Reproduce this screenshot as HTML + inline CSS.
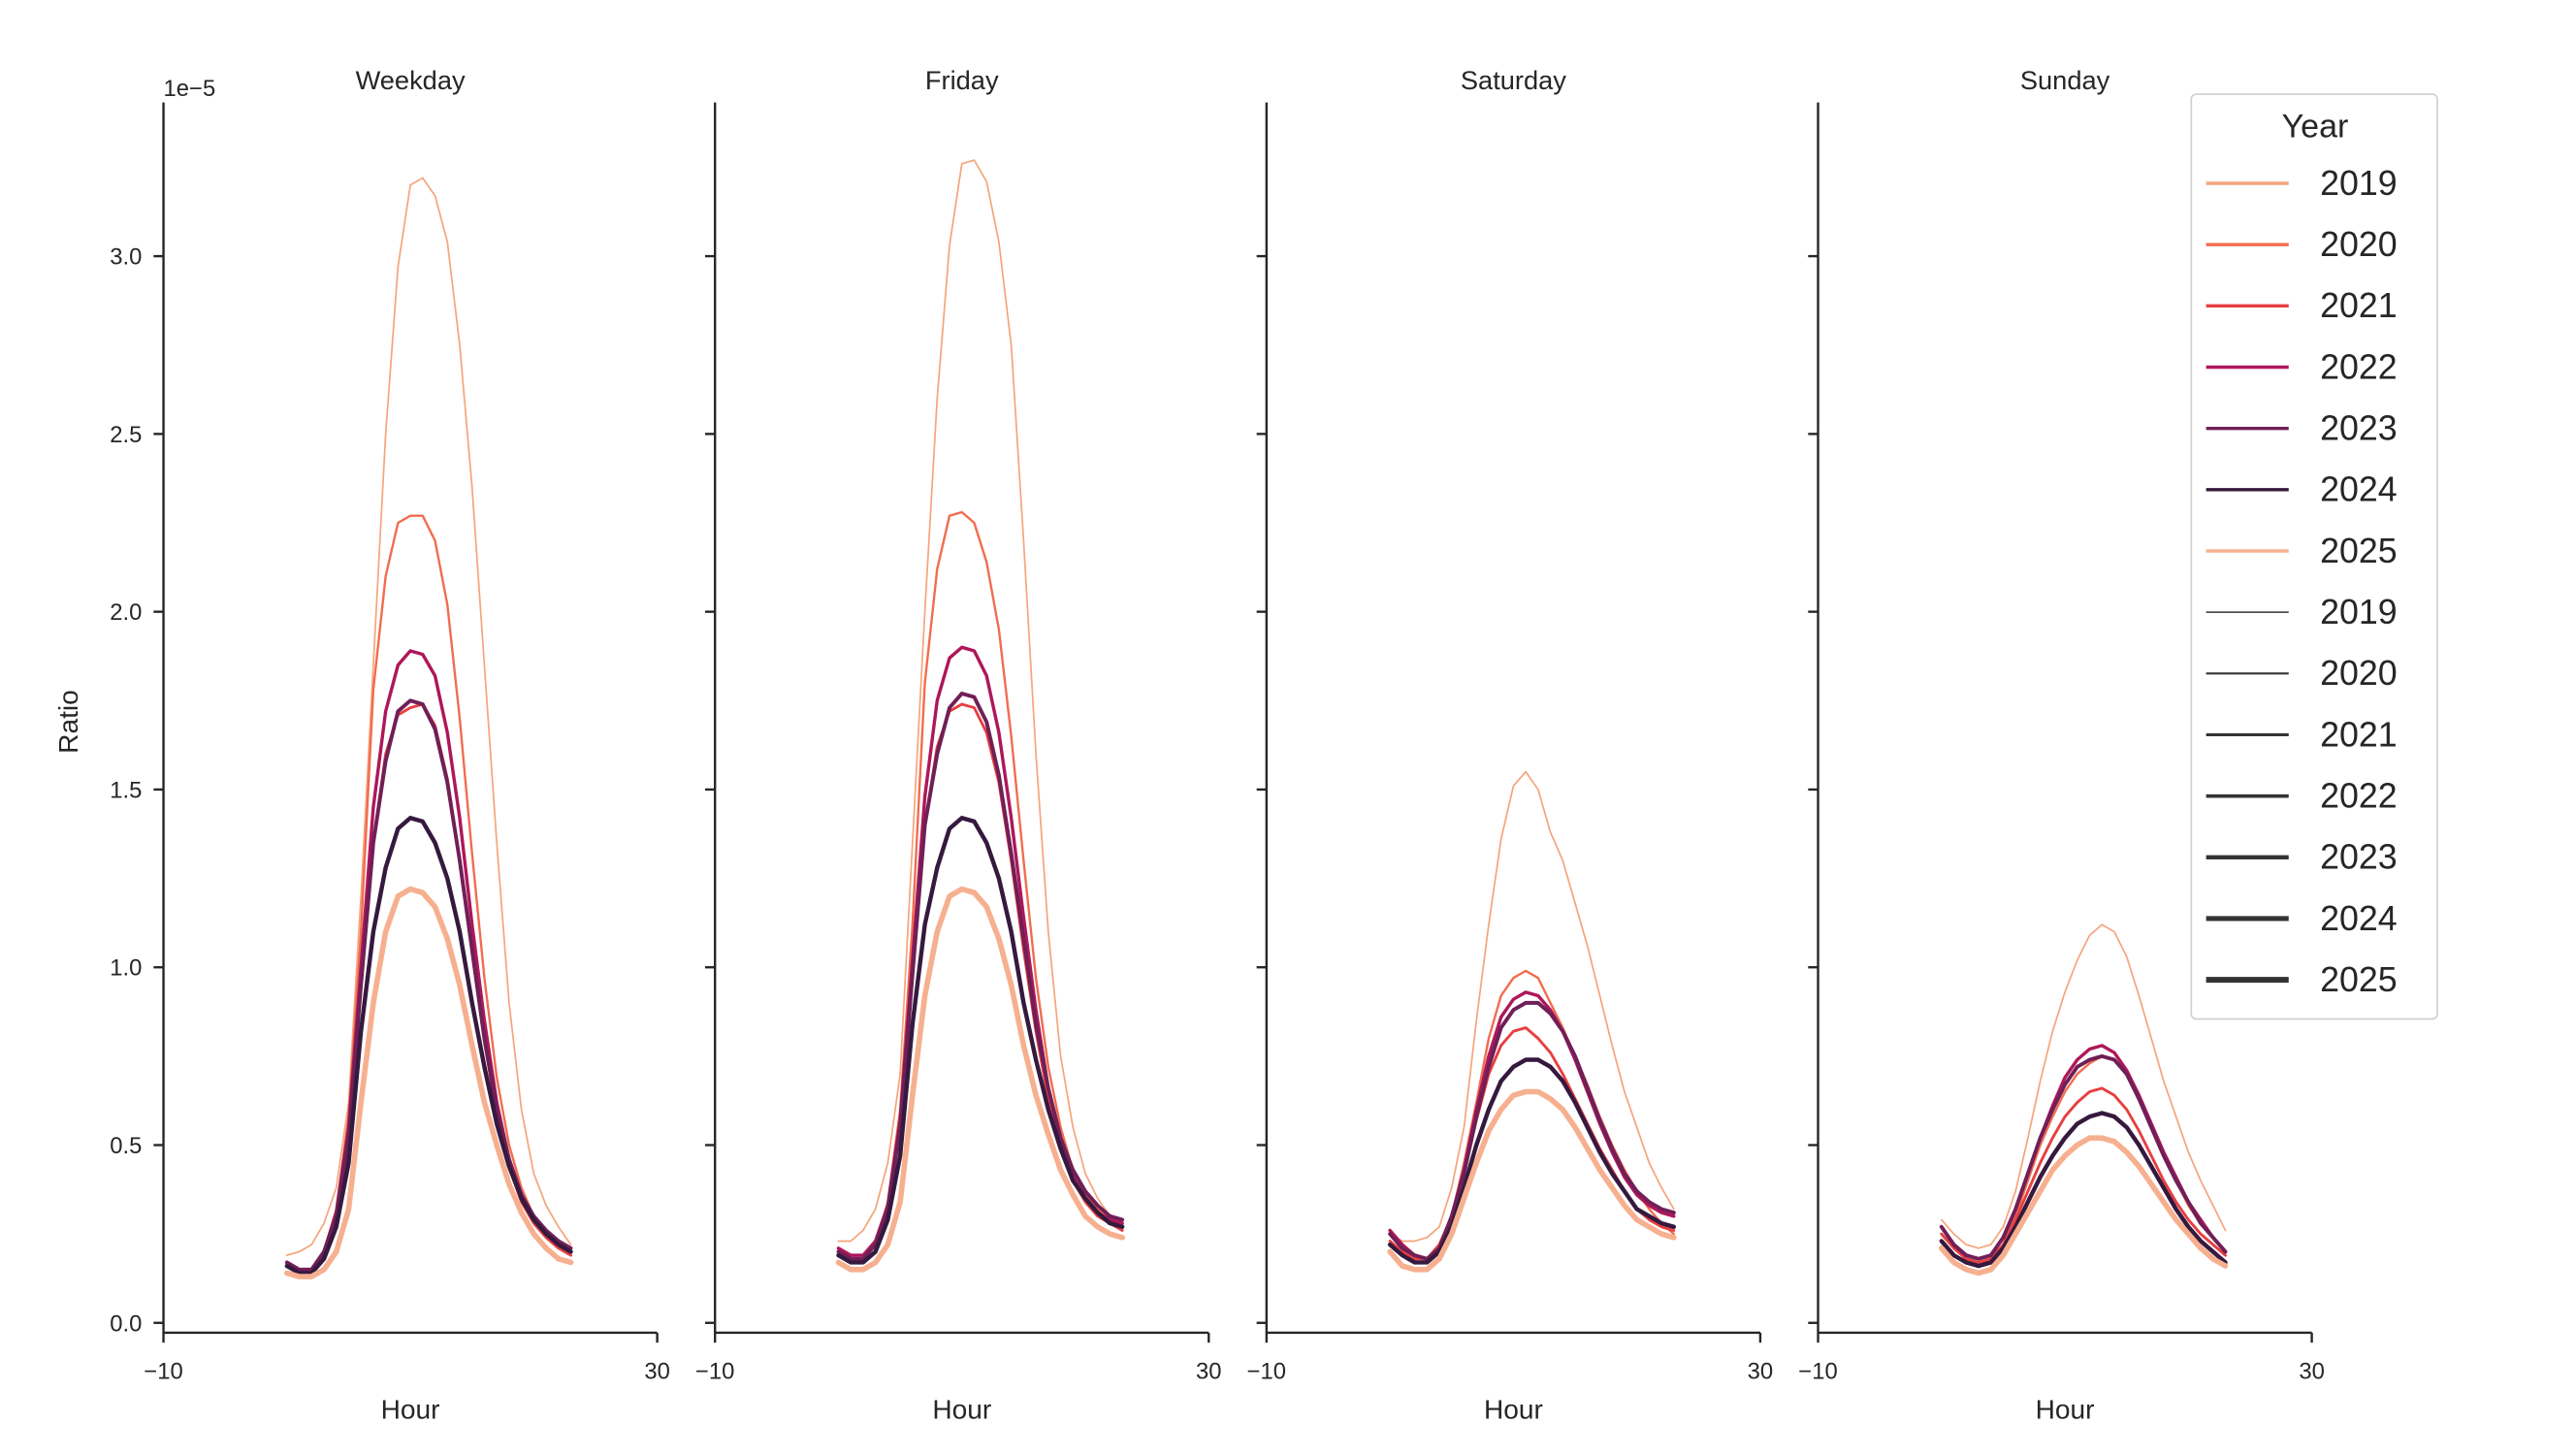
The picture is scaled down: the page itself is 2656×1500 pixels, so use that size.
<!DOCTYPE html>
<html><head><meta charset="utf-8"><style>
html,body{margin:0;padding:0;background:#fff}
svg{display:block}
text{font-family:"Liberation Sans","DejaVu Sans",sans-serif;fill:#262626}
</style></head><body>
<svg id="chart" width="2656" height="1500" viewBox="0 0 1560 881" xmlns="http://www.w3.org/2000/svg">
<g id="axes"></g>
<g id="legend"></g>
</svg>
<script>
const hours = Array.from({length:24},(_,i)=>i);
const years = ["2019","2020","2021","2022","2023","2024","2025"];
const panelTitles = ["Weekday","Friday","Saturday","Sunday"];
const yTickLabels = ["0.0","0.5","1.0","1.5","2.0","2.5","3.0"];
const yTickValues = [0,0.5,1,1.5,2,2.5,3];
const xTickValues = [-10,30];
const weekday = [
[.19,.2,.22,.28,.38,.62,1.2,1.85,2.5,2.97,3.2,3.22,3.17,3.04,2.75,2.35,1.85,1.35,.9,.6,.42,.33,.27,.22],
[.17,.15,.15,.2,.32,.58,1.1,1.78,2.1,2.25,2.27,2.27,2.2,2.02,1.7,1.32,.97,.69,.5,.38,.3,.25,.22,.2],
[.17,.15,.15,.2,.3,.52,.95,1.35,1.6,1.71,1.73,1.74,1.68,1.53,1.3,1.04,.79,.59,.44,.34,.28,.24,.21,.19],
[.17,.15,.15,.2,.31,.55,1.0,1.45,1.72,1.85,1.89,1.88,1.82,1.66,1.42,1.12,.85,.62,.46,.35,.29,.25,.22,.2],
[.17,.15,.15,.2,.3,.52,.95,1.35,1.58,1.72,1.75,1.74,1.67,1.52,1.3,1.05,.8,.6,.46,.36,.3,.26,.23,.21],
[.16,.14,.14,.18,.27,.45,.82,1.1,1.28,1.39,1.42,1.41,1.35,1.25,1.1,.9,.72,.56,.44,.35,.29,.25,.22,.2],
[.14,.13,.13,.15,.2,.32,.62,.9,1.1,1.2,1.22,1.21,1.17,1.08,.95,.78,.62,.5,.39,.31,.25,.21,.18,.17]];
const friday = [
[.23,.23,.26,.32,.45,.7,1.35,2.0,2.6,3.03,3.26,3.27,3.21,3.04,2.75,2.2,1.6,1.1,.75,.55,.42,.35,.3,.26],
[.2,.18,.18,.22,.34,.6,1.12,1.8,2.12,2.27,2.28,2.25,2.14,1.95,1.65,1.3,.97,.72,.55,.43,.36,.32,.29,.27],
[.2,.18,.18,.22,.32,.55,.98,1.4,1.62,1.72,1.74,1.73,1.66,1.52,1.3,1.05,.82,.63,.49,.4,.34,.3,.28,.26],
[.21,.19,.19,.23,.33,.57,1.02,1.48,1.75,1.87,1.9,1.89,1.82,1.66,1.42,1.14,.88,.66,.51,.41,.35,.31,.29,.28],
[.2,.18,.18,.22,.32,.55,.98,1.4,1.6,1.73,1.77,1.76,1.69,1.54,1.32,1.08,.84,.66,.52,.43,.37,.33,.3,.29],
[.19,.17,.17,.2,.29,.47,.84,1.12,1.28,1.39,1.42,1.41,1.35,1.25,1.1,.9,.74,.6,.49,.4,.35,.31,.28,.27],
[.17,.15,.15,.17,.22,.34,.64,.92,1.1,1.2,1.22,1.21,1.17,1.08,.95,.78,.64,.53,.43,.36,.3,.27,.25,.24]];
const saturday = [
[.25,.23,.23,.24,.27,.38,.55,.85,1.12,1.36,1.51,1.55,1.5,1.38,1.3,1.18,1.06,.92,.78,.65,.55,.45,.38,.32],
[.23,.2,.18,.18,.22,.3,.45,.62,.8,.92,.97,.99,.97,.9,.83,.75,.67,.58,.5,.43,.37,.32,.28,.25],
[.23,.2,.18,.18,.22,.3,.42,.57,.7,.78,.82,.83,.8,.76,.7,.63,.56,.49,.43,.37,.32,.29,.27,.26],
[.26,.22,.19,.18,.21,.3,.43,.6,.75,.86,.91,.93,.92,.88,.82,.74,.65,.56,.48,.41,.36,.33,.31,.3],
[.25,.21,.19,.18,.21,.3,.42,.58,.72,.83,.88,.9,.9,.87,.82,.75,.66,.57,.49,.42,.37,.34,.32,.31],
[.22,.19,.17,.17,.2,.27,.38,.5,.6,.68,.72,.74,.74,.72,.68,.62,.55,.48,.42,.37,.32,.3,.28,.27],
[.2,.16,.15,.15,.18,.25,.35,.45,.54,.6,.64,.65,.65,.63,.6,.55,.49,.43,.38,.33,.29,.27,.25,.24]];
const sunday = [
[.29,.25,.22,.21,.22,.27,.37,.52,.68,.82,.93,1.02,1.09,1.12,1.1,1.03,.92,.8,.68,.58,.48,.4,.33,.26],
[.25,.21,.18,.17,.18,.22,.3,.4,.5,.58,.65,.7,.73,.75,.74,.7,.63,.55,.47,.4,.33,.28,.24,.2],
[.25,.21,.18,.17,.18,.22,.29,.37,.45,.52,.58,.62,.65,.66,.64,.6,.54,.47,.4,.34,.29,.25,.22,.19],
[.27,.22,.19,.18,.19,.24,.32,.42,.52,.61,.69,.74,.77,.78,.76,.71,.64,.56,.48,.41,.34,.29,.24,.2],
[.27,.22,.19,.18,.19,.24,.32,.42,.52,.6,.67,.72,.74,.75,.74,.7,.63,.55,.47,.4,.34,.28,.24,.2],
[.23,.19,.17,.16,.17,.21,.27,.34,.41,.47,.52,.56,.58,.59,.58,.55,.5,.44,.38,.32,.27,.23,.2,.17],
[.21,.17,.15,.14,.15,.19,.25,.31,.37,.43,.47,.5,.52,.52,.51,.48,.44,.39,.34,.29,.25,.21,.18,.16]];
const panelData = [weekday, friday, saturday, sunday];

const colors = ["#f6a47c","#f26c4f","#e83f3f","#ae1759","#701f57","#35193e","#f6b08f"];
const widths = [1.0,1.4,1.7,2.0,2.3,2.6,3.3];
const NS = "http://www.w3.org/2000/svg";
const axes = document.getElementById('axes');
const legend = document.getElementById('legend');
const panelX = [99,433,767,1101], panelW = 299;
const y0px = 801, yUnit = 215.3;
function mk(tag, attrs, parent){const e=document.createElementNS(NS,tag);for(const k in attrs)e.setAttribute(k,attrs[k]);parent.appendChild(e);return e;}
function xScale(p,v){return panelX[p] + (v+10)/40*panelW;}
function yScale(v){return y0px - v*yUnit;}

panelData.forEach((series,p)=>{
  const g = mk('g',{},axes);
  
  
  const t = mk('text',{x:xScale(p,10),y:54,'text-anchor':'middle','font-size':'16'},g);
  t.textContent = panelTitles[p];
  
  
  series.forEach((vals,s)=>{
    const pts = vals.map((v,i)=>xScale(p,hours[i]).toFixed(2)+','+yScale(v).toFixed(2)).join(' ');
    const l = mk('polyline',{points:pts,fill:'none',stroke:colors[s],'stroke-width':widths[s],'stroke-linejoin':'round','stroke-linecap':'round'},g);
    
    
  });
  const ys = mk('line',{x1:panelX[p],x2:panelX[p],y1:62,y2:807,stroke:'#262626','stroke-width':1.4},g);
  
  
  const xs = mk('line',{x1:panelX[p],x2:panelX[p]+panelW,y1:807,y2:807,stroke:'#262626','stroke-width':1.4},g);
  
  
  yTickValues.forEach((v,i)=>{
    const tk = mk('line',{x1:panelX[p]-6,x2:panelX[p],y1:yScale(v),y2:yScale(v),stroke:'#262626','stroke-width':1.4},g);
    
    
    if(p===0){
      const tl = mk('text',{x:86,y:yScale(v)+5,'text-anchor':'end','font-size':'14'},g);
      tl.textContent = yTickLabels[i];
      
      
    }
  });
  xTickValues.forEach(v=>{
    const tk = mk('line',{x1:xScale(p,v),x2:xScale(p,v),y1:807,y2:813,stroke:'#262626','stroke-width':1.4},g);
    
    
    const tl = mk('text',{x:xScale(p,v),y:835,'text-anchor':'middle','font-size':'14'},g);
    tl.textContent = v<0 ? '\u2212'+Math.abs(v) : String(v);
    
    
  });
  const xl = mk('text',{x:xScale(p,10),y:859,'text-anchor':'middle','font-size':'16.5'},g);
  xl.textContent = 'Hour';
  
  
});
const off = mk('text',{x:99,y:58,'font-size':'14'},axes);
off.textContent = '1e\u22125';


const yl = mk('text',{x:47,y:437,'text-anchor':'middle','font-size':'16.5',transform:'rotate(-90 47 437)'},axes);
yl.textContent = 'Ratio';



// legend
const box = mk('rect',{x:1327,y:57,width:149,height:560,rx:3,fill:'#fff',stroke:'#d0d0d0','stroke-width':1},legend);


const lt = mk('text',{x:1402,y:83,'text-anchor':'middle','font-size':'20'},legend);
lt.textContent = 'Year';


const greyW = [0.9,1.3,1.7,2.1,2.6,3.0,3.5];
for(let k=0;k<14;k++){
  const yy = 111 + k*37.1;
  const s = k%7;
  const gg = mk('g',{},legend);
  
  
  mk('line',{x1:1336,x2:1386,y1:yy,y2:yy,stroke:k<7?colors[s]:'#333','stroke-width':k<7?2:greyW[s]},gg);
  const tx = mk('text',{x:1405,y:yy+7,'font-size':'21'},gg);
  tx.textContent = years[s];
}
</script>
</body></html>
